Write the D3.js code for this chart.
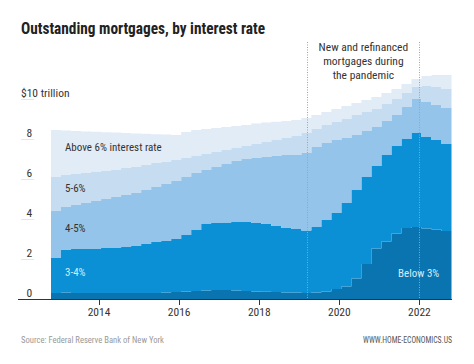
<!DOCTYPE html>
<html>
<head>
<meta charset="utf-8">
<script src="https://cdn.jsdelivr.net/npm/d3@7"></script>
<style>
  html, body { margin: 0; padding: 0; background: #fff; }
  svg { display: block; }
  .narrow { font-family: "Liberation Sans Narrow", "Arial Narrow", "Roboto Condensed", "Liberation Sans", sans-serif; }
</style>
</head>
<body>
<svg id="chart" width="474" height="364"></svg>
<script>
// ---- Data (trillions of dollars, quarterly, 2013–2022) ----
const quarters = [
  "2013Q1","2013Q2","2013Q3","2013Q4","2014Q1","2014Q2","2014Q3","2014Q4",
  "2015Q1","2015Q2","2015Q3","2015Q4","2016Q1","2016Q2","2016Q3","2016Q4",
  "2017Q1","2017Q2","2017Q3","2017Q4","2018Q1","2018Q2","2018Q3","2018Q4",
  "2019Q1","2019Q2","2019Q3","2019Q4","2020Q1","2020Q2","2020Q3","2020Q4",
  "2021Q1","2021Q2","2021Q3","2021Q4","2022Q1","2022Q2","2022Q3","2022Q4"
];
const below3 = [0.30,0.32,0.30,0.30,0.30,0.30,0.30,0.30,0.30,0.30,0.30,0.32,0.35,0.38,0.40,0.42,
  0.45,0.45,0.43,0.40,0.38,0.36,0.35,0.33,0.32,0.30,0.32,0.38,0.50,0.62,1.03,1.75,
  2.53,2.87,3.28,3.55,3.60,3.53,3.48,3.40];
const rate3to4 = [1.75,2.13,2.20,2.20,2.20,2.25,2.25,2.30,2.35,2.45,2.55,2.58,2.65,2.82,3.05,3.36,
  3.35,3.37,3.42,3.45,3.42,3.39,3.30,3.22,3.18,3.12,3.28,3.57,3.80,4.18,4.42,4.35,
  4.12,4.33,4.37,4.45,4.70,4.57,4.47,4.35];
const rate4to5 = [2.35,2.15,2.20,2.30,2.40,2.45,2.55,2.60,2.65,2.70,2.75,2.85,2.90,2.90,2.85,2.67,
  2.80,2.93,3.05,3.15,3.25,3.35,3.50,3.65,3.70,3.88,4.00,3.85,3.65,3.25,2.75,2.30,
  1.95,1.70,1.55,1.60,1.70,1.75,1.75,1.80];
const rate5to6 = [1.70,1.60,1.55,1.50,1.45,1.40,1.35,1.35,1.30,1.25,1.20,1.12,1.05,0.95,0.85,0.80,
  0.75,0.70,0.65,0.65,0.70,0.75,0.80,0.85,0.95,1.00,0.90,0.90,0.90,0.95,1.00,0.95,
  0.90,0.85,0.80,0.70,0.60,0.80,0.90,0.95];
const above6 = [2.35,2.22,2.15,2.08,2.01,1.94,1.87,1.75,1.68,1.56,1.44,1.35,1.25,1.30,1.30,1.25,
  1.20,1.15,1.10,1.05,1.03,0.97,0.91,0.85,0.80,0.75,0.70,0.65,0.65,0.65,0.60,0.60,
  0.60,0.55,0.50,0.45,0.40,0.50,0.60,0.70];

const seriesKeys = ["below3","rate3to4","rate4to5","rate5to6","above6"];
const seriesLabels = ["Below 3%","3-4%","4-5%","5-6%","Above 6% interest rate"];
const yTicks = [0, 2, 4, 6, 8, 10];
const xTicks = [2014, 2016, 2018, 2020, 2022];
const pandemicWindow = [2019.2, 2022.0];

// ---- Layout / style ----
const colors = {
  below3: "#0a74b0", rate3to4: "#0b8fd5", rate4to5: "#94c4ea",
  rate5to6: "#c5dcf1", above6: "#e2ecf7"
};
const svg = d3.select("#chart");
const firstStart = 2012.8, quarterLen = 0.25;

const x = d3.scaleLinear().domain([firstStart, firstStart + quarters.length * quarterLen]).range([51, 451.5]);
const y = d3.scaleLinear().domain([0, 10]).range([299, 99]);

const cols = { below3, rate3to4, rate4to5, rate5to6, above6 };
const rows = quarters.map((q, i) => {
  const r = { t: firstStart + i * quarterLen };
  seriesKeys.forEach(k => r[k] = cols[k][i]);
  return r;
});
rows.push(Object.assign({}, rows[rows.length - 1], { t: firstStart + quarters.length * quarterLen }));

const layers = d3.stack().keys(seriesKeys)(rows);

const area = d3.area()
  .x(d => x(d.data.t))
  .y0(d => y(d[0]))
  .y1(d => y(d[1]))
  .curve(d3.curveStepAfter);

// small underlines beneath y labels
svg.append("g").selectAll("line").data(yTicks).join("line")
  .attr("x1", 21).attr("x2", 34)
  .attr("y1", d => y(d) + 0.5).attr("y2", d => y(d) + 0.5)
  .attr("stroke", "#e6e6e6").attr("stroke-width", 1);

svg.append("g").selectAll("path").data(layers).join("path")
  .attr("d", area)
  .attr("fill", d => colors[d.key]);

// y labels
svg.append("g").attr("class", "narrow").selectAll("text").data(yTicks).join("text")
  .attr("x", d => d === 10 ? 21 : 26.5)
  .attr("y", d => y(d) - 2.5)
  .attr("font-size", 11.5)
  .attr("fill", "#333")
  .text(d => d === 10 ? "$10 trillion" : d);

// x axis
const xAxisG = svg.append("g").attr("transform", "translate(0,299)");
xAxisG.append("line").attr("x1", 18).attr("x2", 452).attr("y1", 0.5).attr("y2", 0.5)
  .attr("stroke", "#333").attr("stroke-width", 1);
xAxisG.selectAll("line.tick").data(xTicks).join("line").attr("class", "tick")
  .attr("x1", d => Math.round(x(d)) + 0.5).attr("x2", d => Math.round(x(d)) + 0.5)
  .attr("y1", 0).attr("y2", 6).attr("stroke", "#333");
xAxisG.selectAll("text").data(xTicks).join("text")
  .attr("class", "narrow")
  .attr("x", d => x(d)).attr("y", 16.5)
  .attr("text-anchor", "middle").attr("font-size", 11.5).attr("fill", "#333")
  .text(d => d);

// pandemic lines
svg.append("g").selectAll("line").data(pandemicWindow).join("line")
  .attr("x1", d => Math.round(x(d)) + 0.5).attr("x2", d => Math.round(x(d)) + 0.5)
  .attr("y1", 42).attr("y2", 299)
  .attr("stroke", "#9aa4ad").attr("stroke-width", 1).attr("stroke-dasharray", "1,1.5");

const annX = (x(pandemicWindow[0]) + x(pandemicWindow[1])) / 2;
svg.append("text").attr("class", "narrow")
  .attr("text-anchor", "middle").attr("font-size", 11.5).attr("fill", "#333")
  .selectAll("tspan").data(["New and refinanced", "mortgages during", "the pandemic"]).join("tspan")
  .attr("x", annX).attr("y", (d, i) => 51 + i * 14).text(d => d);

// series labels
const labelPos = {
  above6: [65, 151, "#333"], rate5to6: [65, 191.5, "#333"], rate4to5: [65, 232, "#333"],
  rate3to4: [65, 276, "#d6ecfa"], below3: [398, 277, "#d6ecfa"]
};
svg.append("g").attr("class", "narrow").selectAll("text").data(seriesKeys).join("text")
  .attr("x", k => labelPos[k][0]).attr("y", k => labelPos[k][1])
  .attr("fill", k => labelPos[k][2]).attr("font-size", 11)
  .text((k, i) => seriesLabels[i]);

// title
svg.append("text").attr("class", "narrow").attr("x", 21).attr("y", 33.5)
  .attr("font-weight", "bold").attr("font-size", 16).attr("fill", "#222")
  .attr("textLength", 244).attr("lengthAdjust", "spacingAndGlyphs")
  .text("Outstanding mortgages, by interest rate");

// footer
svg.append("text").attr("class", "narrow").attr("x", 21).attr("y", 342.5)
  .attr("font-size", 9.5).attr("fill", "#9a9a9a")
  .attr("textLength", 143).attr("lengthAdjust", "spacingAndGlyphs")
  .text("Source: Federal Reserve Bank of New York");
svg.append("text").attr("class", "narrow").attr("x", 363).attr("y", 342.5)
  .attr("font-size", 9.5).attr("fill", "#555")
  .attr("textLength", 89).attr("lengthAdjust", "spacingAndGlyphs")
  .text("WWW.HOME-ECONOMICS.US");
</script>
</body>
</html>
